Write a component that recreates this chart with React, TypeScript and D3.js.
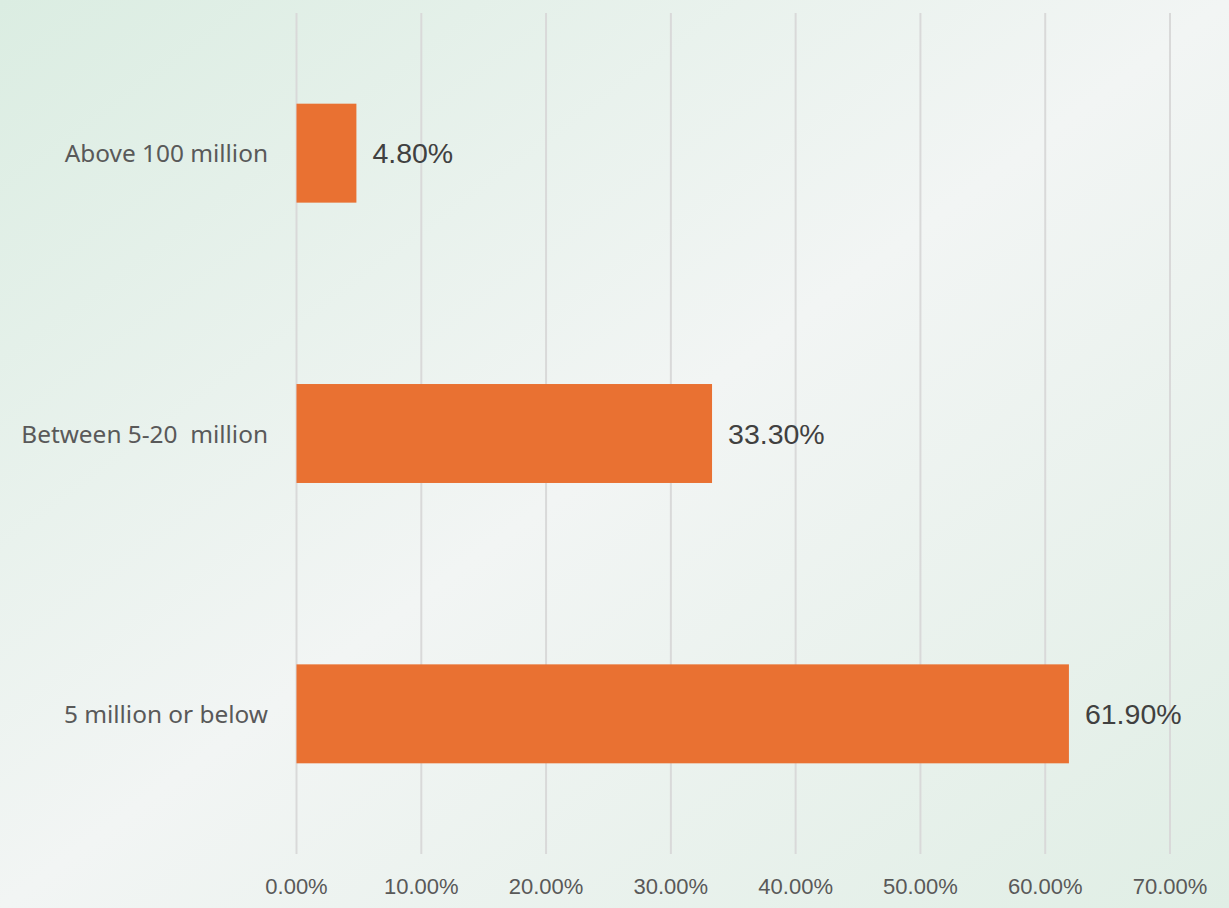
import React from "react";
import * as d3 from "d3";

const categories = ["Above 100 million", "Between 5-20  million", "5 million or below"];
const values = [4.8, 33.3, 61.9];
const ticks = [0, 10, 20, 30, 40, 50, 60, 70];

const W = 1229;
const H = 908;

export default function App() {
  const x = d3.scaleLinear().domain([0, 70]).range([296.5, 1170]);
  const y = d3.scaleBand<string>().domain(categories).range([13, 854]).paddingInner(0.647).paddingOuter(0.3235);
  const bw = y.bandwidth();
  return (
    <svg width={W} height={H} style={{ position: "absolute", left: 0, top: 0 }}>
      <defs>
        <linearGradient id="bg" x1="0" y1="0" x2="1" y2="1">
          <stop offset="0" stopColor="#dbede2" />
          <stop offset="0.5" stopColor="#f2f5f4" />
          <stop offset="1" stopColor="#e0eee5" />
        </linearGradient>
      </defs>
      <rect x={0} y={0} width={W} height={H} fill="url(#bg)" />
      {ticks.map((t) => (
        <g key={t}>
          <line x1={x(t)} x2={x(t)} y1={13} y2={854} stroke="#d9d9d9" strokeWidth={2} />
          <text x={x(t)} y={894} textAnchor="middle" fontFamily="Liberation Sans, Arial, sans-serif" fontSize={22} fill="#595959">
            {t.toFixed(2) + "%"}
          </text>
        </g>
      ))}
      {categories.map((c, i) => {
        const yy = y(c)!;
        return (
          <g key={c}>
            <rect x={x(0)} y={yy} width={x(values[i]) - x(0)} height={bw} fill="#e97132" />
            <text x={268} y={yy + bw / 2 + 9} textAnchor="end" fontFamily="Noto Sans, sans-serif" fontSize={24.4} fill="#595959" style={{ whiteSpace: "pre" }}>
              {c}
            </text>
            <text x={x(values[i]) + 16} y={yy + bw / 2 + 10} fontFamily="Liberation Sans, Arial, sans-serif" fontSize={28.5} fill="#404040">
              {values[i].toFixed(2) + "%"}
            </text>
          </g>
        );
      })}
    </svg>
  );
}
